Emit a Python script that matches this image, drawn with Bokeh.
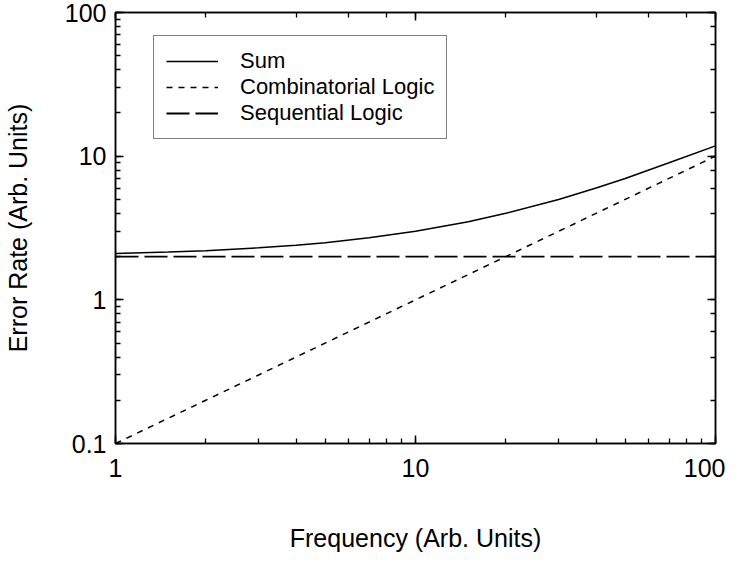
from bokeh.plotting import figure
from bokeh.models import LogAxis, Legend, LegendItem, CustomJSTickFormatter
from bokeh.embed import file_html
from bokeh.resources import INLINE

# Data
freq = [1, 1.5, 2, 3, 4, 5, 7, 10, 15, 20, 30, 40, 50, 70, 100]
comb = [0.1, 0.15, 0.2, 0.3, 0.4, 0.5, 0.7, 1.0, 1.5, 2.0, 3.0, 4.0, 5.0, 7.0, 10.0]
seq = [2.0] * len(freq)
total = [2.1, 2.15, 2.2, 2.3, 2.4, 2.5, 2.7, 3.0, 3.5, 4.0, 5.0, 6.0, 7.0, 9.0, 11.8]
series_names = ["Sum", "Combinatorial Logic", "Sequential Logic"]
x_tick_values = [1, 10, 100]
x_tick_labels = ["1", "10", "100"]
y_tick_values = [0.1, 1, 10, 100]
y_tick_labels = ["0.1", "1", "10", "100"]
x_title = "Frequency (Arb. Units)"
y_title = "Error Rate (Arb. Units)"

FONT = "Liberation Sans"

p = figure(width=725, height=555, x_axis_type="log", y_axis_type="log",
           x_range=(1, 100), y_range=(0.1, 100),
           output_backend="svg", toolbar_location=None,
           min_border_left=112, min_border_right=10,
           min_border_top=12, min_border_bottom=112)
p.background_fill_alpha = 0
p.border_fill_color = "white"
p.grid.visible = False
p.outline_line_color = "black"
p.outline_line_width = 1.5

r_sum = p.line(freq, total, line_color="black", line_width=1.5)
r_comb = p.line(freq, comb, line_color="black", line_width=1.5, line_dash="6 6")
r_seq = p.line(freq, seq, line_color="black", line_width=1.8, line_dash="23 6")


def style_axis(ax):
    ax.axis_line_color = "black"
    ax.axis_line_width = 1.5
    ax.major_tick_in = 8
    ax.major_tick_out = 0
    ax.minor_tick_in = 5
    ax.minor_tick_out = 0
    ax.major_tick_line_color = "black"
    ax.minor_tick_line_color = "black"
    ax.major_tick_line_width = 1.5
    ax.minor_tick_line_width = 1.3
    ax.major_label_text_font = FONT
    ax.major_label_text_font_size = "25px"
    ax.major_label_text_color = "black"
    ax.axis_label_text_font = FONT
    ax.axis_label_text_font_size = "25px"
    ax.axis_label_text_font_style = "normal"
    ax.axis_label_text_color = "black"


xa = p.xaxis[0]
ya = p.yaxis[0]
style_axis(xa)
style_axis(ya)
xa.major_label_overrides = {v: t for v, t in zip(x_tick_values, x_tick_labels)}
ya.major_label_overrides = {v: t for v, t in zip(y_tick_values, y_tick_labels)}
xa.axis_label = x_title
ya.axis_label = y_title
xa.major_label_standoff = 15
ya.major_label_standoff = 9
xa.axis_label_standoff = 44
ya.axis_label_standoff = 30

blank = CustomJSTickFormatter(code="return ''")
for side in ("right", "above"):
    ax = LogAxis(formatter=blank)
    style_axis(ax)
    ax.major_label_standoff = 0
    ax.major_label_text_font_size = "0px"
    p.add_layout(ax, side)

legend = Legend(items=[LegendItem(label=series_names[0], renderers=[r_sum]),
                       LegendItem(label=series_names[1], renderers=[r_comb]),
                       LegendItem(label=series_names[2], renderers=[r_seq])],
                location=(38, 304))
legend.label_text_font = FONT
legend.label_text_font_size = "22px"
legend.label_text_color = "black"
legend.glyph_width = 52
legend.label_standoff = 22
legend.padding = 12
legend.spacing = 0
legend.margin = 0
legend.border_line_color = "black"
legend.border_line_width = 1.5
legend.background_fill_alpha = 1
p.add_layout(legend, "center")

open("out.html", "w").write(file_html(p, INLINE))
